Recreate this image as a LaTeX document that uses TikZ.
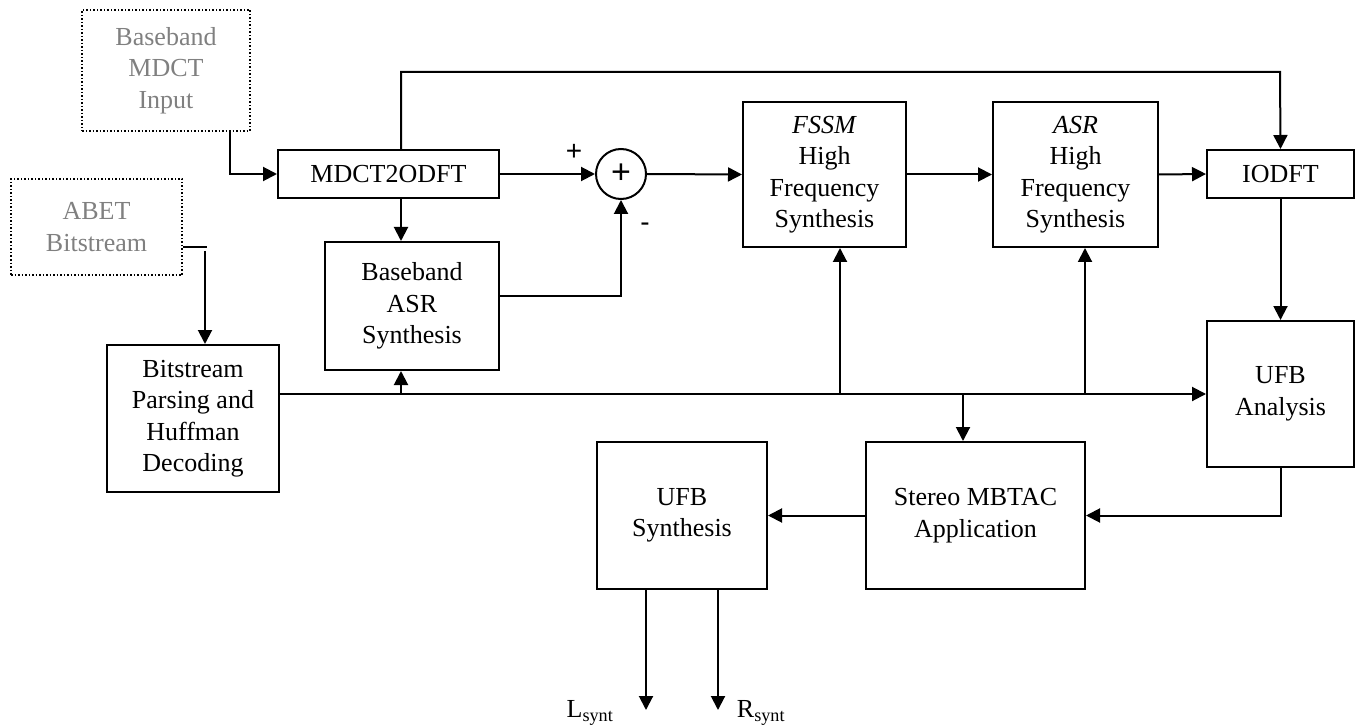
\documentclass[tikz,border=0pt]{standalone}
\usepackage{fontspec}
\setmainfont{Liberation Serif}
\newfontfamily\signfont{Liberation Sans}
\usetikzlibrary{arrows.meta}

\tikzset{
    blk/.style={draw, line width=2pt, align=center, inner sep=0pt,
        font=\fontsize{26}{31.5}\selectfont},
    srcblk/.style={blk, line width=1.5pt, dotted, text=gray},
    arr/.style={line width=2pt, -{Triangle[length=14pt,width=14pt]}},
    ln/.style={line width=2pt},
    sgn/.style={font=\signfont\fontsize{28}{28}\selectfont}
}

\begin{document}
\begin{tikzpicture}[x=1pt,y=-1pt]
    \useasboundingbox (0,0) rectangle (1359,727);

    % 输入框 (虚线)
    \node[srcblk, minimum width=168pt, minimum height=121pt] (bbin) at (166,70.5) {Baseband\\MDCT\\Input};
    \node[srcblk, minimum width=171pt, minimum height=96pt] (abet) at (96.5,227) {ABET\\Bitstream};

    % 处理模块
    \node[blk, minimum width=221pt, minimum height=48pt] (m2o) at (388.5,174) {MDCT2ODFT};
    \node[draw, line width=2pt, circle, minimum size=50pt, inner sep=0pt,
          font=\signfont\fontsize{34}{34}\selectfont] (sum) at (621,174) {+};
    \node[blk, minimum width=174pt, minimum height=128pt] (bbasr) at (412,306) {Baseband\\ASR\\Synthesis};
    \node[blk, minimum width=163pt, minimum height=145pt] (fssm) at (824.5,174.5) {\textit{FSSM}\\High\\Frequency\\Synthesis};
    \node[blk, minimum width=165pt, minimum height=145pt] (asr) at (1075.5,174.5) {\textit{ASR}\\High\\Frequency\\Synthesis};
    \node[blk, minimum width=147pt, minimum height=48pt] (iodft) at (1280.5,174) {IODFT};
    \node[blk, minimum width=147pt, minimum height=146pt] (ufba) at (1280.5,394) {UFB\\Analysis};
    \node[blk, minimum width=172pt, minimum height=147pt] (bsp) at (193,418.5) {Bitstream\\Parsing and\\Huffman\\Decoding};
    \node[blk, minimum width=219pt, minimum height=147pt] (stereo) at (975.5,515.5) {Stereo MBTAC\\Application};
    \node[blk, minimum width=170pt, minimum height=147pt] (ufbs) at (682,515.5) {UFB\\Synthesis};

    % 辅助坐标
    \coordinate (bbout) at (230,131);
    \coordinate (abstub) at (207,247);
    \coordinate (abdrop) at (205,251);
    \coordinate (m2otap) at (401,150);
    \coordinate (topline) at (1280,72);
    \coordinate (tapF) at (840,394);
    \coordinate (tapR) at (1085,394);
    \coordinate (tapS) at (963,394);
    \coordinate (lout) at (646,710);
    \coordinate (rout) at (718,710);

    % 输入连线
    \draw[arr] (bbout) |- (m2o.west);
    \draw[ln] (abet.east |- abstub) -- (abstub);
    \draw[arr] (abdrop) -- (abdrop |- bsp.north);

    % 上方主通路
    \draw[arr] (m2o.east) -- (sum.west);
    \draw[arr] (sum.east) -- (fssm.west);
    \draw[arr] (fssm.east) -- (asr.west);
    \draw[arr] (asr.east) -- (iodft.west);
    \draw[arr] (m2otap |- m2o.north) |- (topline) -- (iodft.north);
    \draw[arr] (m2otap |- m2o.south) -- (m2otap |- bbasr.north);
    \draw[arr] ([yshift=10pt]bbasr.east) -| (sum.south);
    \draw[arr] (iodft.south) -- (ufba.north);

    % 符号
    \node[sgn] (plus) at (574,152) {+};
    \node[sgn] (minus) at (645,227) {-};

    % 总线
    \draw[arr] (bsp.east |- ufba.west) -- (ufba.west);
    \draw[arr] (m2otap |- ufba.west) -- (m2otap |- bbasr.south);
    \draw[arr] (tapF) -- (tapF |- fssm.south);
    \draw[arr] (tapR) -- (tapR |- asr.south);
    \draw[arr] (tapS) -- (tapS |- stereo.north);

    % 下方通路
    \draw[arr] (ufba.south) |- (stereo.east);
    \draw[arr] (stereo.west) -- (ufbs.east);
    \draw[arr] (lout |- ufbs.south) -- (lout);
    \draw[arr] (rout |- ufbs.south) -- (rout);

    % 输出标签
    \node[font=\fontsize{26}{26}\selectfont] (lsynt) at (590,713) {L\textsubscript{synt}};
    \node[font=\fontsize{26}{26}\selectfont] (rsynt) at (761,713) {R\textsubscript{synt}};

\end{tikzpicture}
\end{document}
